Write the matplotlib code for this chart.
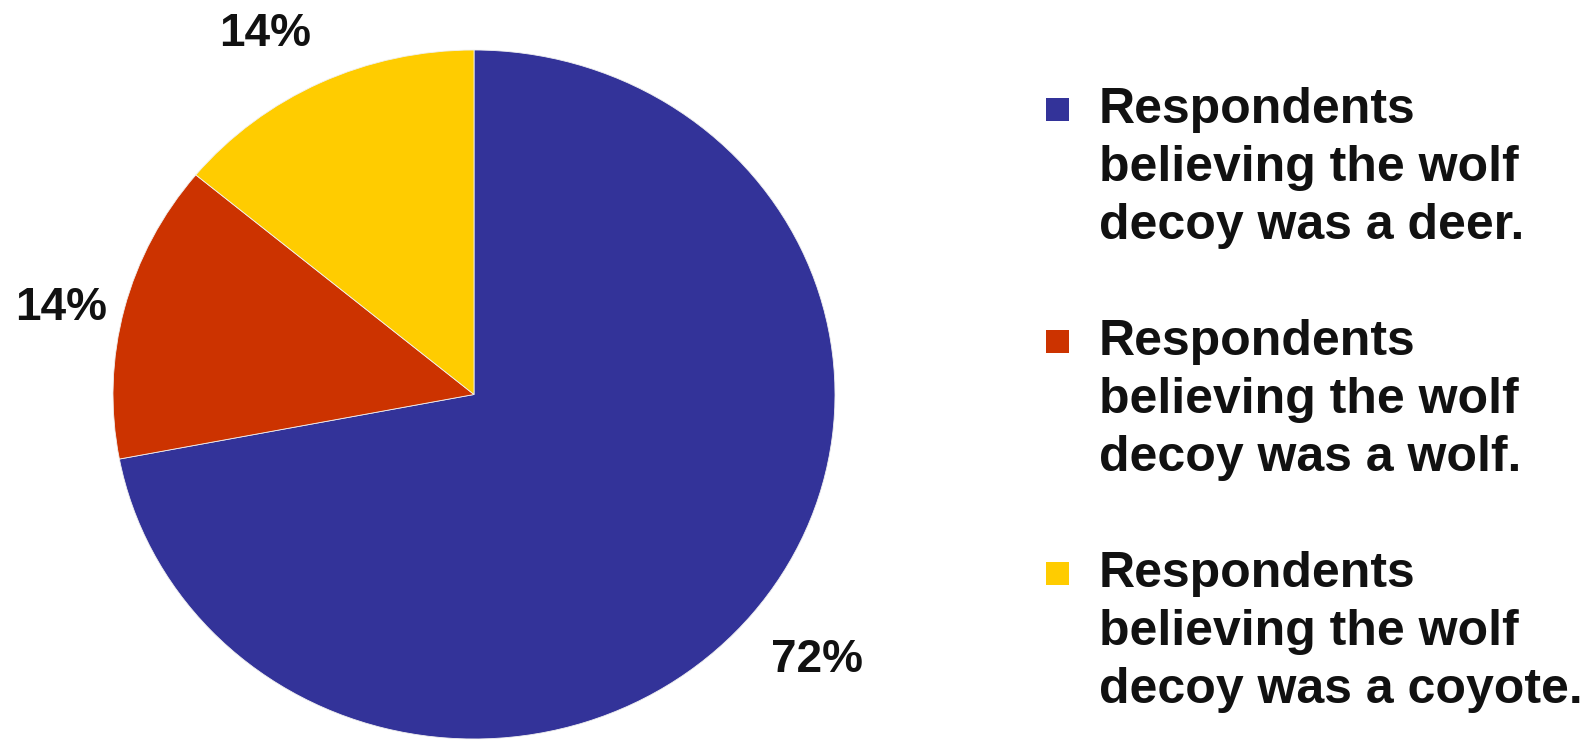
import numpy as np
import matplotlib
matplotlib.use('Agg')
import matplotlib.pyplot as plt
from matplotlib.patches import Rectangle

# data
shares = [72, 14, 14]
pct_labels = ['72%', '14%', '14%']
colors = ['#333399', '#CC3300', '#FFCC00']
legend_lines = [
    ['Respondents', 'believing the wolf', 'decoy was a deer.'],
    ['Respondents', 'believing the wolf', 'decoy was a wolf.'],
    ['Respondents', 'believing the wolf', 'decoy was a coyote.'],
]
# label placement (radius, angle nudge in degrees)
label_r = [1.224, 1.171, 1.196]
label_nudge = [0.5, 2.0, 3.7]

plt.rcParams['font.family'] = ['Liberation Sans', 'DejaVu Sans']

W, H = 1585, 742
fig = plt.figure(figsize=(W / 100, H / 100), dpi=100)
fig.patch.set_facecolor('white')

# pie box in pixels (slightly wider than tall, like the original)
left, right, top, bottom = 113, 835, 50, 739
ax = fig.add_axes([left / W, (H - bottom) / H, (right - left) / W, (bottom - top) / H])
wedges, _ = ax.pie(shares, colors=colors, startangle=90, counterclock=False,
                   radius=1, wedgeprops=dict(edgecolor='#f0f0f0', linewidth=0.6))
ax.set_aspect('auto')
ax.set_xlim(-1, 1)
ax.set_ylim(-1, 1)
ax.axis('off')

# percent labels around the pie
for w, lab, r, nd in zip(wedges, pct_labels, label_r, label_nudge):
    mid = np.deg2rad((w.theta1 + w.theta2) / 2 + nd)
    ax.text(r * np.cos(mid), r * np.sin(mid), lab, ha='center', va='center',
            fontsize=33, fontweight='bold', color='#111111', clip_on=False)

# legend drawn by hand so the square sits on the first line
base0 = 123
line_gap = 58
block_gap = 232
for i, lines in enumerate(legend_lines):
    b = base0 + i * block_gap
    fig.patches.append(Rectangle((1046 / W, (H - b + 2) / H), 23 / W, 23 / H,
                                 transform=fig.transFigure, facecolor=colors[i],
                                 edgecolor='none'))
    for j, s in enumerate(lines):
        fig.text(1099 / W, (H - (b + j * line_gap)) / H, s, ha='left', va='baseline',
                 fontsize=36, fontweight='bold', color='#111111')

fig.savefig('out.png', dpi=100, facecolor='white')
